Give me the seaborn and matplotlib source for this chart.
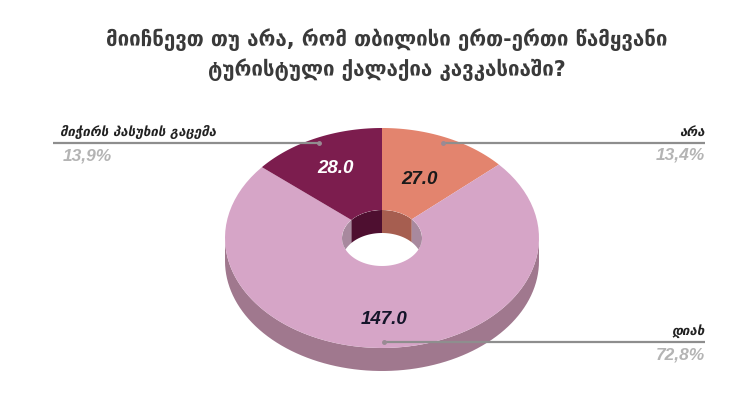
# -*- coding: utf-8 -*-
"""
3D-style donut chart: survey on Tbilisi as a leading tourist city
"""

import numpy as np
import matplotlib
matplotlib.use("Agg")
import matplotlib.pyplot as plt
import seaborn as sns
from matplotlib.patches import Polygon, Ellipse

# data
title = "მიიჩნევთ თუ არა, რომ თბილისი ერთ-ერთი წამყვანი\nტურისტული ქალაქია კავკასიაში?"
categories = ["არა", "დიახ", "მიჭირს პასუხის გაცემა"]
counts = [27.0, 147.0, 28.0]
pct_labels = ["13,4%", "72,8%", "13,9%"]

# styles
top_colors = sns.color_palette(["#E3846E", "#D6A5C7", "#7C1D4E"])
wall_colors = sns.color_palette(["#A65E50", "#A8899E", "#4E0F30"])
side_colors = sns.color_palette(["#B06A58", "#A0788E", "#5E1238"])
value_colors = ["#1a1a1a", "#15152a", "white"]
label_r = [0.58, 0.74, 0.70]

sns.set_theme(style="white")
plt.rcParams["font.family"] = ["DejaVu Sans"]

# geometry (pixel units)
W, H = 743, 393
CX, CY = 382, 238
A, B = 157, 110
HA, HB = 40, 28
DEPTH = 23


def arc(t0, t1, ra, rb, dy=0.0, n=80):
    t = np.radians(np.linspace(t0, t1, n))
    return np.column_stack([CX + ra * np.sin(t), CY - rb * np.cos(t) + dy])


def overlaps(a0, a1, b0, b1):
    out = []
    for s in (-360, 0, 360):
        lo, hi = max(a0 + s, b0), min(a1 + s, b1)
        if hi > lo:
            out.append((lo, hi))
    return out


fig = plt.figure(figsize=(W / 100, H / 100), dpi=100)
ax = fig.add_axes([0, 0, 1, 1])
ax.set_xlim(0, W)
ax.set_ylim(H, 0)
ax.axis("off")

total = sum(counts)
bounds = np.concatenate([[0], np.cumsum(counts) / total * 360])

# outer side wall (front half)
for i in range(len(counts)):
    for lo, hi in overlaps(bounds[i], bounds[i + 1], 90, 270):
        pts = np.vstack([arc(lo, hi, A, B), arc(hi, lo, A, B, DEPTH)])
        ax.add_patch(Polygon(pts, closed=True, fc=side_colors[i], ec="none"))

# top faces
for i in range(len(counts)):
    t0, t1 = bounds[i], bounds[i + 1]
    pts = np.vstack([arc(t0, t1, A, B), arc(t1, t0, HA, HB)])
    ax.add_patch(Polygon(pts, closed=True, fc=top_colors[i], ec="none"))

# inner wall of the hole (back half)
hole = Ellipse((CX, CY), 2 * HA, 2 * HB, fc="none", ec="none")
ax.add_patch(hole)
for i in range(len(counts)):
    for lo, hi in overlaps(bounds[i], bounds[i + 1], -90, 90):
        pts = np.vstack([arc(lo, hi, HA, HB), arc(hi, lo, HA, HB, DEPTH)])
        p = Polygon(pts, closed=True, fc=wall_colors[i], ec="none")
        ax.add_patch(p)
        p.set_clip_path(hole)

# value labels
for i, v in enumerate(counts):
    m = np.radians((bounds[i] + bounds[i + 1]) / 2)
    x = CX + label_r[i] * A * np.sin(m)
    y = CY - label_r[i] * B * np.cos(m)
    ax.text(x, y, f"{v:.1f}", ha="center", va="center", fontsize=13.5,
            fontweight="bold", fontstyle="italic", family="Liberation Sans",
            color=value_colors[i])

# leader lines with category and percentage
for i in range(len(counts)):
    m = np.radians((bounds[i] + bounds[i + 1]) / 2)
    x0 = CX + 0.95 * A * np.sin(m)
    y0 = CY - 0.95 * B * np.cos(m)
    right = np.sin(m) > 0
    x1 = 705 if right else 53
    ax.plot([x0, x1], [y0, y0], color="#8E8E8E", lw=1.6, solid_capstyle="butt")
    ax.plot([x0], [y0], "o", ms=2.5, color="#9A8A94")
    tx = 705 if right else 60
    ha = "right" if right else "left"
    ax.text(tx, y0 - 4, categories[i], ha=ha, va="bottom", fontsize=9.5,
            fontweight="bold", fontstyle="italic", color="#222222")
    ax.text(tx + (0 if right else 3), y0 + 5, pct_labels[i], ha=ha, va="top",
            fontsize=12.5, fontweight="bold", fontstyle="italic",
            family="Liberation Sans", color="#B4B4B4")

ax.text(387, 55, title, ha="center", va="center", fontsize=14.8,
        fontweight="bold", color="#3A3A3A", linespacing=1.4)

fig.savefig("out.png", dpi=100)
